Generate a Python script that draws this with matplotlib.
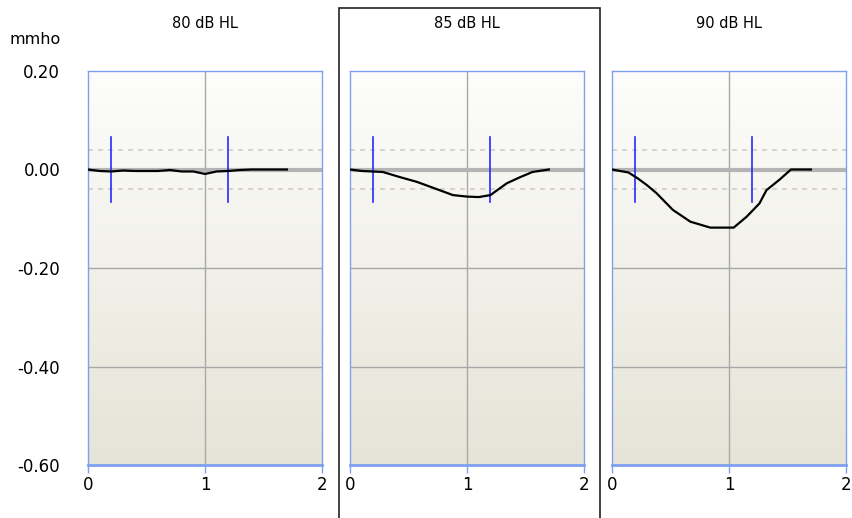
import numpy as np
import matplotlib.pyplot as plt
from matplotlib.patches import Rectangle

plt.rcParams['font.family'] = ['DejaVu Sans']

titles = ['80 dB HL', '85 dB HL', '90 dB HL']
y_ticks = [0.20, 0.00, -0.20, -0.40, -0.60]
x_ticks = [0, 1, 2]
markers = [0.2, 1.2]

x80 = [0.0, 0.1, 0.2, 0.3, 0.4, 0.5, 0.6, 0.7, 0.8, 0.9, 1.0, 1.1, 1.2, 1.3, 1.4, 1.5, 1.6, 1.7]
y80 = [0.0, -0.003, -0.004, -0.002, -0.003, -0.003, -0.003, -0.001, -0.004, -0.004,
       -0.009, -0.004, -0.003, -0.001, 0.0, 0.0, 0.0, 0.0]

x85 = [0.0, 0.1, 0.28, 0.42, 0.57, 0.72, 0.88, 1.0, 1.10, 1.2, 1.27, 1.34, 1.45, 1.56, 1.7]
y85 = [0.0, -0.003, -0.005, -0.015, -0.025, -0.038, -0.052, -0.055, -0.056, -0.052,
       -0.040, -0.028, -0.016, -0.005, 0.0]

x90 = [0.0, 0.14, 0.22, 0.30, 0.38, 0.52, 0.67, 0.84, 1.04, 1.15, 1.26, 1.32, 1.43, 1.53, 1.7]
y90 = [0.0, -0.006, -0.018, -0.032, -0.048, -0.082, -0.106, -0.118, -0.118, -0.096,
       -0.069, -0.042, -0.021, 0.0, 0.0]

curves = [(x80, y80), (x85, y85), (x90, y90)]

W, H = 852, 518
fig = plt.figure(figsize=(W / 100, H / 100), dpi=100)

lefts = [88, 350, 612]
grad = np.linspace(0, 1, 256).reshape(-1, 1)
top_c = np.array([253, 253, 252]) / 255
bot_c = np.array([230, 228, 215]) / 255
img = top_c[None, None, :] * (1 - grad[:, :, None]) + bot_c[None, None, :] * grad[:, :, None]

blue = '#7f9ff0'
for i, (left, title, (xs, ys)) in enumerate(zip(lefts, titles, curves)):
    ax = fig.add_axes([left / W, (H - 465) / H, 234 / W, 394 / H])
    ax.imshow(img, extent=[0, 1, 0, 1], transform=ax.transAxes, aspect='auto', zorder=0)
    ax.set_xlim(0, 2)
    ax.set_ylim(-0.6, 0.2)

    for yv in [-0.2, -0.4]:
        ax.axhline(yv, color='#a8a8a8', lw=1, zorder=1)
    ax.axvline(1, color='#a8a8a8', lw=1, zorder=1)
    ax.axhline(0, color='#b4b4b4', lw=3, zorder=1)
    for yv in [0.04, -0.04]:
        ax.axhline(yv, color='#cfcfc8', lw=1.2, ls=(0, (3, 3)), zorder=1)
    for m in markers:
        ax.plot([m, m], [-0.065, 0.065], color='#2a2aff', lw=1.2, zorder=3)
    ax.plot(xs, ys, color='black', lw=1.6, zorder=4)

    for s in ax.spines.values():
        s.set_color(blue)
        s.set_linewidth(1)
    ax.spines['bottom'].set_linewidth(2)

    ax.set_xticks(x_ticks)
    ax.set_yticks(y_ticks)
    ax.tick_params(axis='x', colors=blue, length=6, width=1, labelcolor='black',
                   labelsize=12, pad=2)
    if i == 0:
        ax.set_yticklabels(['%.2f' % v for v in y_ticks], fontsize=12)
        ax.tick_params(axis='y', length=0, pad=20)
    else:
        ax.set_yticklabels([])
        ax.tick_params(axis='y', length=0)
    ax.set_title(title, fontsize=10.5, pad=31)

fig.text(35 / W, 1 - 40 / H, 'mmho', fontsize=11.5, ha='center', va='center')
fig.patches.append(Rectangle((339 / W, -0.05), (600 - 339) / W, 1.05 - 8 / H,
                             transform=fig.transFigure, fill=False,
                             edgecolor='#222222', lw=1.2))

fig.savefig('out.png', dpi=100)
